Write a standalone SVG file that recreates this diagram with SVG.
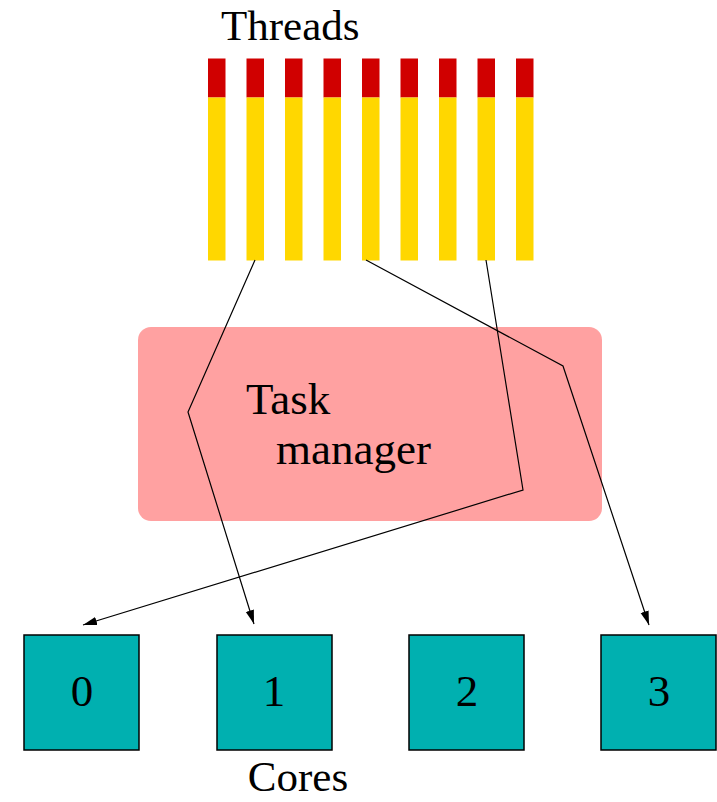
<svg xmlns="http://www.w3.org/2000/svg" width="717" height="802" viewBox="0 0 717 802">
<defs>
<marker id="arr" viewBox="0 0 10 10" refX="10" refY="5" markerWidth="14" markerHeight="14" markerUnits="userSpaceOnUse" orient="auto">
<path d="M0,2 L10,5 L0,8 Z" fill="#000"/>
</marker>
<style>
text{font-family:"Liberation Serif","Times New Roman",serif;font-size:45px;fill:#000}
.edge{font-size:43px}
.red{fill:#d00000}
.yel{fill:#ffd700}
.core{fill:#00b0b0;stroke:#000;stroke-width:1.5}
.conn{fill:none;stroke:#000;stroke-width:1.2;marker-end:url(#arr)}
</style>
</defs>
<rect width="717" height="802" fill="#fff"/>
<text class="edge" x="221" y="40">Threads</text>
<g id="threads">
<g id="t0"><rect class="red" x="208" y="58.5" width="17.5" height="39"/><rect class="yel" x="208" y="97.5" width="17.5" height="163"/></g>
<g id="t1"><rect class="red" x="246.5" y="58.5" width="17.5" height="39"/><rect class="yel" x="246.5" y="97.5" width="17.5" height="163"/></g>
<g id="t2"><rect class="red" x="285" y="58.5" width="17.5" height="39"/><rect class="yel" x="285" y="97.5" width="17.5" height="163"/></g>
<g id="t3"><rect class="red" x="323.5" y="58.5" width="17.5" height="39"/><rect class="yel" x="323.5" y="97.5" width="17.5" height="163"/></g>
<g id="t4"><rect class="red" x="362" y="58.5" width="17.5" height="39"/><rect class="yel" x="362" y="97.5" width="17.5" height="163"/></g>
<g id="t5"><rect class="red" x="400.5" y="58.5" width="17.5" height="39"/><rect class="yel" x="400.5" y="97.5" width="17.5" height="163"/></g>
<g id="t6"><rect class="red" x="439" y="58.5" width="17.5" height="39"/><rect class="yel" x="439" y="97.5" width="17.5" height="163"/></g>
<g id="t7"><rect class="red" x="477.5" y="58.5" width="17.5" height="39"/><rect class="yel" x="477.5" y="97.5" width="17.5" height="163"/></g>
<g id="t8"><rect class="red" x="516" y="58.5" width="17.5" height="39"/><rect class="yel" x="516" y="97.5" width="17.5" height="163"/></g>
</g>
<g id="taskmanager">
<rect x="138" y="327" width="464" height="194" rx="13" fill="#ffa1a1"/>
<text x="246" y="414">Task</text>
<text x="276" y="464">manager</text>
</g>
<g id="cores">
<g id="core0"><rect class="core" x="24" y="635" width="115" height="115"/><text x="82" y="706" text-anchor="middle">0</text></g>
<g id="core1"><rect class="core" x="217" y="635" width="115" height="115"/><text x="274" y="706" text-anchor="middle">1</text></g>
<g id="core2"><rect class="core" x="409" y="635" width="115" height="115"/><text x="467" y="706" text-anchor="middle">2</text></g>
<g id="core3"><rect class="core" x="601" y="635" width="115" height="115"/><text x="659" y="706" text-anchor="middle">3</text></g>
</g>
<text class="edge" x="298" y="791" text-anchor="middle">Cores</text>
<g id="connectors">
<polyline class="conn" points="255,260 188,412 254,624"/>
<polyline class="conn" points="366,260 563,366 649,625"/>
<polyline class="conn" points="486,260 523,490 83,625"/>
</g>
</svg>
